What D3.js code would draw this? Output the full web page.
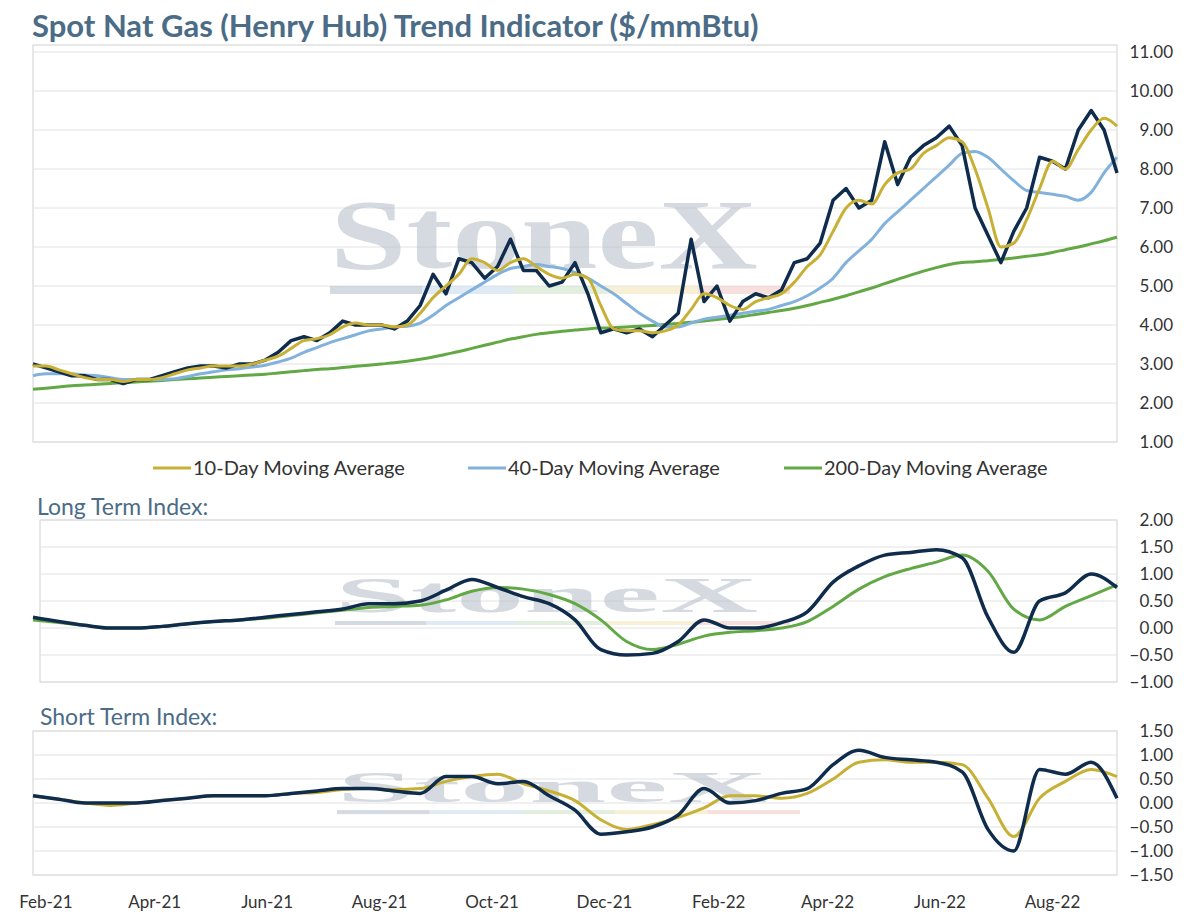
<!DOCTYPE html>
<html><head><meta charset="utf-8">
<script src="https://cdn.jsdelivr.net/npm/d3@7"></script>
<style>body{margin:0;background:#fff;font-family:Lato,"Open Sans",sans-serif}</style>
</head><body><div id="chart"></div>
<script>
// weekly spot + moving averages, Jan-25-2021 .. Sep-05-2022
const spot = [3.0,2.9,2.8,2.7,2.7,2.6,2.6,2.5,2.6,2.6,2.7,2.8,2.9,2.95,2.95,2.9,3.0,3.0,3.1,3.3,3.6,3.7,3.6,3.8,4.1,4.0,4.0,4.0,3.9,4.1,4.5,5.3,4.8,5.7,5.6,5.2,5.5,6.2,5.4,5.4,5.0,5.1,5.6,4.8,3.8,3.9,3.8,3.9,3.7,4.0,4.3,6.2,4.6,5.0,4.1,4.6,4.8,4.7,4.9,5.6,5.7,6.1,7.2,7.5,7.0,7.2,8.7,7.6,8.3,8.6,8.8,9.1,8.6,7.0,6.3,5.6,6.4,7.0,8.3,8.2,8.0,9.0,9.5,9.0,7.9];
const ma10 = [2.95,2.95,2.85,2.75,2.65,2.6,2.6,2.55,2.6,2.6,2.65,2.75,2.85,2.9,2.95,2.95,2.95,3.0,3.1,3.2,3.4,3.6,3.65,3.75,3.95,4.05,4.0,4.0,3.95,4.0,4.3,4.7,5.0,5.3,5.7,5.6,5.4,5.6,5.7,5.5,5.3,5.2,5.3,5.2,4.5,3.9,3.85,3.85,3.8,3.85,4.0,4.4,4.8,4.7,4.5,4.4,4.6,4.7,4.8,5.1,5.5,5.8,6.4,7.0,7.2,7.1,7.6,7.9,8.0,8.4,8.6,8.8,8.7,8.0,7.0,6.0,6.1,6.7,7.5,8.2,8.0,8.5,9.0,9.3,9.1];
const ma40 = [2.7,2.75,2.75,2.75,2.72,2.7,2.65,2.6,2.6,2.6,2.6,2.62,2.68,2.75,2.8,2.85,2.88,2.92,2.97,3.05,3.15,3.3,3.42,3.55,3.65,3.75,3.85,3.9,3.95,3.97,4.05,4.25,4.5,4.7,4.9,5.1,5.3,5.45,5.5,5.55,5.5,5.45,5.35,5.2,5.0,4.8,4.55,4.3,4.1,3.95,3.95,4.05,4.15,4.2,4.25,4.3,4.35,4.4,4.5,4.6,4.75,4.95,5.2,5.6,5.9,6.2,6.6,6.9,7.2,7.5,7.8,8.1,8.4,8.45,8.3,8.0,7.7,7.45,7.4,7.35,7.3,7.2,7.4,7.9,8.3];
const ma200 = [2.35,2.38,2.41,2.44,2.46,2.48,2.5,2.52,2.54,2.56,2.58,2.6,2.62,2.64,2.66,2.68,2.7,2.72,2.74,2.77,2.8,2.83,2.86,2.88,2.91,2.94,2.97,3.0,3.03,3.07,3.12,3.18,3.25,3.32,3.4,3.48,3.56,3.64,3.7,3.76,3.8,3.84,3.87,3.9,3.92,3.93,3.95,3.97,3.99,4.01,4.04,4.07,4.1,4.14,4.18,4.22,4.27,4.32,4.37,4.43,4.5,4.58,4.66,4.75,4.85,4.95,5.06,5.17,5.28,5.38,5.47,5.55,5.6,5.62,5.65,5.68,5.72,5.76,5.8,5.86,5.93,6.0,6.08,6.16,6.25];
// bi-weekly index values
const longIdx = [0.2,0.12,0.05,0.0,0.0,0.03,0.08,0.12,0.15,0.2,0.25,0.3,0.35,0.45,0.45,0.5,0.7,0.9,0.75,0.58,0.45,0.15,-0.4,-0.5,-0.47,-0.25,0.15,0.0,0.0,0.1,0.3,0.85,1.15,1.35,1.4,1.45,1.3,0.2,-0.45,0.5,0.65,1.0,0.75];
const longSig = [0.15,0.1,0.05,0.0,0.0,0.03,0.08,0.12,0.15,0.18,0.23,0.28,0.33,0.38,0.4,0.42,0.52,0.68,0.75,0.72,0.62,0.45,0.15,-0.25,-0.4,-0.3,-0.15,-0.08,-0.05,0.0,0.12,0.4,0.72,0.95,1.1,1.22,1.35,1.05,0.35,0.15,0.4,0.6,0.8];
const shortIdx = [0.15,0.08,0.0,0.0,0.0,0.05,0.1,0.15,0.15,0.15,0.2,0.25,0.3,0.3,0.25,0.2,0.55,0.55,0.4,0.45,0.15,-0.15,-0.65,-0.6,-0.5,-0.25,0.3,0.0,0.05,0.2,0.3,0.8,1.1,0.95,0.9,0.85,0.65,-0.55,-1.0,0.7,0.6,0.85,0.1];
const shortSig = [0.15,0.08,0.0,-0.05,0.0,0.05,0.1,0.15,0.15,0.15,0.2,0.22,0.28,0.3,0.28,0.3,0.45,0.55,0.6,0.4,0.25,0.05,-0.35,-0.55,-0.45,-0.3,-0.1,0.15,0.15,0.1,0.2,0.5,0.85,0.9,0.85,0.85,0.8,0.1,-0.7,0.1,0.45,0.7,0.55];
const monthTicks = ['2021-02-01','2021-04-01','2021-06-01','2021-08-01','2021-10-01','2021-12-01','2022-02-01','2022-04-01','2022-06-01','2022-08-01'];

const start = new Date(2021, 0, 25);
const weekly = spot.map((d, i) => d3.timeDay.offset(start, i * 7));
const biweekly = longIdx.map((d, i) => d3.timeDay.offset(start, i * 14));

const cNavy = '#0f2c4c', cGold = '#c8b034', cBlue = '#82b2dc', cGreen = '#62a845', cTitle = '#4b6c87';

const svg = d3.select('#chart').append('svg').attr('width', 1199).attr('height', 921);

const x = d3.scaleTime().domain([weekly[0], weekly[weekly.length - 1]]).range([33, 1117]);

svg.append('text').attr('x', 32).attr('y', 37).attr('fill', cTitle)
   .attr('font-size', 31).attr('font-weight', 'bold')
   .text('Spot Nat Gas (Henry Hub) Trend Indicator ($/mmBtu)');

function watermark(left, width, base, size) {
  svg.append('text').attr('x', left).attr('y', base)
     .attr('font-family', 'Liberation Serif, serif').attr('font-size', size).attr('font-weight', 'bold')
     .attr('textLength', width * 0.93).attr('lengthAdjust', 'spacingAndGlyphs')
     .attr('fill', '#b4bcc8').attr('opacity', 0.55).text('StoneX');
  const cols = ['#b8c2cf', '#c9dced', '#cfe3c8', '#f3e6b8', '#f0c9c4'];
  cols.forEach((c, i) => {
    svg.append('rect').attr('x', left + i * width / 5).attr('y', base + size * 0.18)
       .attr('width', width / 5).attr('height', Math.max(4, size * 0.08))
       .attr('fill', c).attr('opacity', 0.6);
  });
}

function panel(y, top, bottom, left, ticks) {
  svg.append('rect').attr('x', left).attr('y', top).attr('width', 1117 - left).attr('height', bottom - top)
     .attr('fill', 'none').attr('stroke', '#d0d0d0');
  const g = svg.append('g');
  ticks.forEach(t => {
    g.append('line').attr('x1', left).attr('x2', 1117).attr('y1', y(t)).attr('y2', y(t))
     .attr('stroke', '#e2e2e2');
    g.append('text').attr('x', 1173).attr('y', y(t) + 6).attr('text-anchor', 'end')
     .attr('font-size', 17).attr('fill', '#333').text(d3.format('.2f')(t));
  });
}

function drawLine(data, dates, y, color, w, curve) {
  svg.append('path').datum(data)
     .attr('fill', 'none').attr('stroke', color).attr('stroke-width', w)
     .attr('stroke-linejoin', 'round')
     .attr('d', d3.line().curve(curve || d3.curveLinear).x((d, i) => x(dates[i])).y(d => y(d)));
}

// top panel
const yTop = d3.scaleLinear().domain([1, 11]).range([442, 52]);
panel(yTop, 45, 442, 33, d3.range(1, 11.5, 1));
watermark(330, 460, 268, 100);
drawLine(ma200, weekly, yTop, cGreen, 3, d3.curveMonotoneX);
drawLine(ma40, weekly, yTop, cBlue, 3, d3.curveMonotoneX);
drawLine(spot, weekly, yTop, cNavy, 3.5);
drawLine(ma10, weekly, yTop, cGold, 3, d3.curveMonotoneX);

const legend = [['10-Day Moving Average', cGold, 153], ['40-Day Moving Average', cBlue, 468], ['200-Day Moving Average', cGreen, 784]];
legend.forEach(l => {
  svg.append('line').attr('x1', l[2]).attr('x2', l[2] + 38).attr('y1', 468).attr('y2', 468)
     .attr('stroke', l[1]).attr('stroke-width', 3);
  svg.append('text').attr('x', l[2] + 40).attr('y', 475).attr('font-size', 20).attr('fill', '#333').text(l[0]);
});

// long term index
svg.append('text').attr('x', 37).attr('y', 515).attr('fill', cTitle).attr('font-size', 23).text('Long Term Index:');
const yLong = d3.scaleLinear().domain([-1, 2]).range([682, 520]);
panel(yLong, 520, 682, 40, [-1, -0.5, 0, 0.5, 1, 1.5, 2]);
watermark(335, 455, 612, 50);
drawLine(longSig, biweekly, yLong, cGreen, 3, d3.curveMonotoneX);
drawLine(longIdx, biweekly, yLong, cNavy, 3.5, d3.curveMonotoneX);

// short term index
svg.append('text').attr('x', 40).attr('y', 725).attr('fill', cTitle).attr('font-size', 23).text('Short Term Index:');
const yShort = d3.scaleLinear().domain([-1.5, 1.5]).range([875, 731]);
panel(yShort, 731, 875, 33, [-1.5, -1, -0.5, 0, 0.5, 1, 1.5]);
watermark(337, 463, 802, 45);
drawLine(shortSig, biweekly, yShort, cGold, 3, d3.curveMonotoneX);
drawLine(shortIdx, biweekly, yShort, cNavy, 3.5, d3.curveMonotoneX);

svg.append('g').selectAll('text').data(monthTicks).join('text')
   .attr('x', d => x(d3.timeParse('%Y-%m-%d')(d))).attr('y', 908)
   .attr('text-anchor', 'middle').attr('font-size', 17).attr('fill', '#333')
   .text(d => d3.timeFormat('%b-%y')(d3.timeParse('%Y-%m-%d')(d)));
</script></body></html>
